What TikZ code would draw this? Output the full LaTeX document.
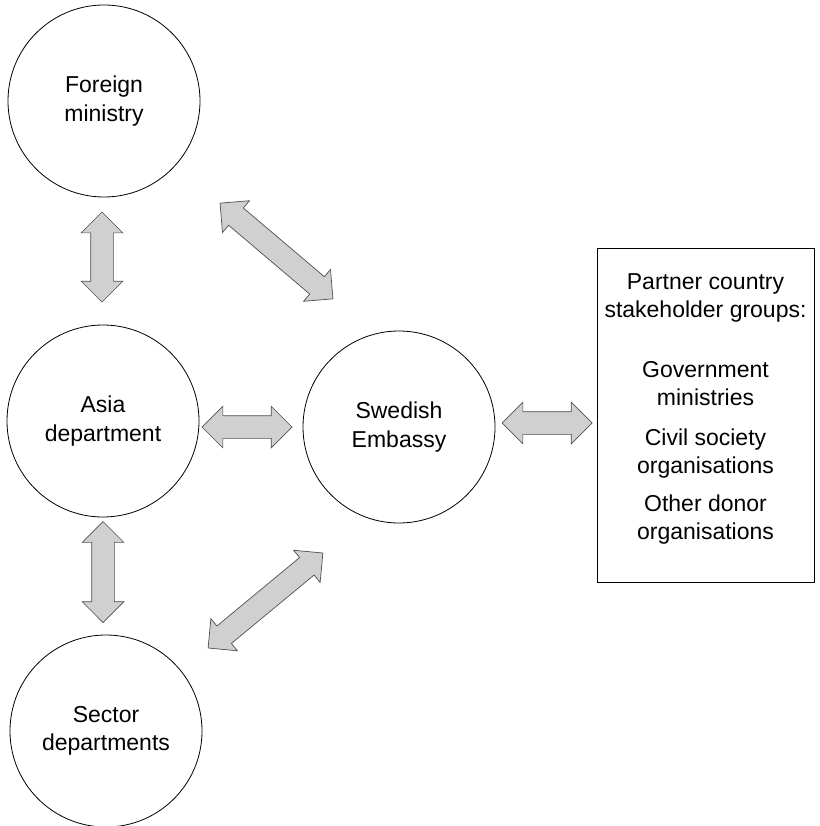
\documentclass[tikz,border=0pt]{standalone}
\usepackage{fontspec}
\setmainfont{Liberation Sans}
\usetikzlibrary{shapes.arrows, positioning}
\usepackage{xcolor}
\definecolor{arrowfill}{RGB}{208,208,208}
\definecolor{arrowline}{RGB}{80,80,80}

\begin{document}
\begin{tikzpicture}[
    x=1pt, y=-1pt,
    actor/.style={
        circle,
        draw=black,
        line width=0.8pt,
        minimum size=192pt,
        inner sep=0pt,
        align=center,
        font=\fontsize{23}{28.5}\selectfont
    },
    groupbox/.style={
        rectangle,
        draw=black,
        line width=0.8pt,
        minimum width=217pt,
        minimum height=334pt
    },
    grouptext/.style={
        align=center,
        font=\fontsize{23}{28}\selectfont
    },
    link/.style={
        double arrow,
        draw=arrowline,
        fill=arrowfill,
        line width=0.7pt,
        inner xsep=0pt,
        inner ysep=11pt,
        minimum width=41pt,
        double arrow head extend=9.5pt
    }
]
\useasboundingbox (0,0) rectangle (819,826);

\node (fm) [actor] at (104,101) {Foreign\\ministry};
\node (asia) [actor] at (103,421) {Asia\\department};
\node (sector) [actor] at (106,731) {Sector\\departments};
\node (embassy) [actor] at (399,427) {Swedish\\Embassy};
\node (partners) [groupbox] at (705.5,415) {};
\node (partnerlist) [grouptext, yshift=6pt] at (partners.center) {Partner country\\stakeholder groups:\\[32pt]
    Government\\ministries\\[12pt]
    Civil society\\organisations\\[10pt]
    Other donor\\organisations};

\node (fmasia) [link, minimum height=90pt, rotate=90] at (102,257) {};
\node (asiasector) [link, minimum height=101pt, rotate=90] at (103,572) {};
\node (asiaemb) [link, minimum height=90pt] at (247,427) {};
\node (embpart) [link, minimum height=90pt] at (547,423) {};
\node (fmemb) [link, minimum height=148pt, rotate=-40.3] at (276.5,251) {};
\node (sectoremb) [link, minimum height=149pt, rotate=39.6] at (265.5,600.5) {};

\end{tikzpicture}
\end{document}
